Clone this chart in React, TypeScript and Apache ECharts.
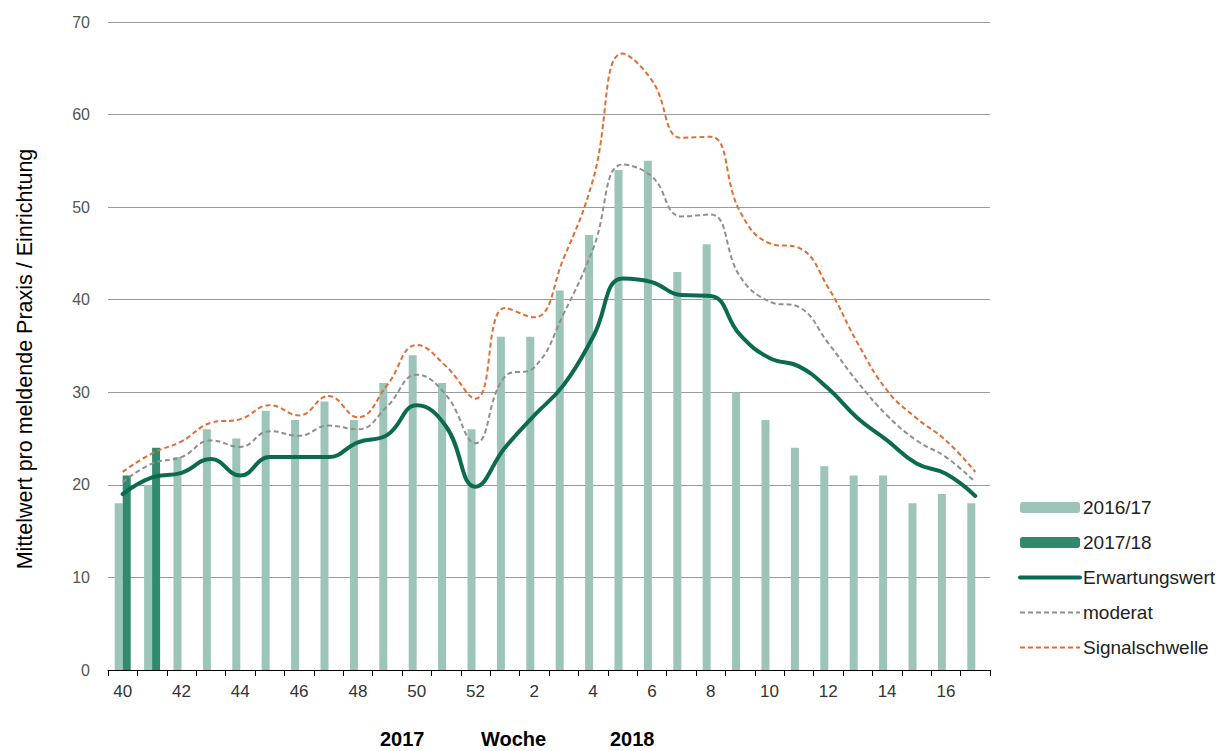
import React, { useEffect, useRef } from "react";
import * as echarts from "echarts";

const weeks = [
  "40", "41", "42", "43", "44", "45", "46", "47", "48", "49", "50", "51", "52",
  "1", "2", "3", "4", "5", "6", "7", "8", "9", "10", "11", "12", "13", "14", "15", "16", "17",
];
const season1617 = [18, 20, 23, 26, 25, 28, 27, 29, 27, 31, 34, 31, 26, 36, 36, 41, 47, 54, 55, 43, 46, 30, 27, 24, 22, 21, 21, 18, 19, 18];
const season1718 = [21, 24];
const erwartung = [19.0, 20.8, 21.3, 22.8, 21.0, 23.0, 23.0, 23.0, 24.6, 25.4, 28.6, 26.3, 19.8, 24.0, 27.5, 30.8, 36.0, 42.3, 41.9, 40.5, 40.4, 36.2, 33.7, 32.8, 30.4, 27.2, 24.8, 22.3, 21.2, 18.8];
const moderat = [20.3, 22.3, 23.0, 24.8, 24.1, 25.8, 25.3, 26.4, 26.0, 28.5, 31.9, 29.7, 24.5, 31.7, 32.7, 38.5, 45.5, 54.6, 53.3, 49.0, 49.2, 42.5, 39.8, 39.2, 35.3, 31.1, 27.5, 24.8, 23.0, 20.3];
const signal = [21.4, 23.4, 24.7, 26.7, 27.1, 28.6, 27.5, 29.6, 27.3, 30.8, 35.1, 32.8, 29.3, 39.1, 38.1, 44.5, 53.0, 66.6, 63.7, 57.5, 57.6, 49.5, 46.1, 45.6, 41.3, 35.3, 30.2, 27.2, 24.8, 21.4];
const yTicks = { min: 0, max: 70, interval: 10 };
const legendNames = ["2016/17", "2017/18", "Erwartungswert", "moderat", "Signalschwelle"];
const yTitle = "Mittelwert pro meldende Praxis / Einrichtung";

export default function App() {
  const ref = useRef<HTMLDivElement>(null);
  useEffect(() => {
    if (!ref.current) return;
    const chart = echarts.init(ref.current, undefined, { renderer: "svg" });
    const font = "Liberation Sans, Arial, sans-serif";
    chart.setOption({
      animation: false,
      textStyle: { fontFamily: font },
      grid: { left: 108, right: 234, top: 22, bottom: 81, containLabel: false },
      legend: {
        orient: "vertical",
        left: 1013,
        top: 493,
        itemWidth: 60,
        itemHeight: 11,
        itemGap: 16,
        textStyle: { fontSize: 19, color: "#222", fontFamily: font, padding: [0, 0, 0, -2] },
        data: legendNames.map((n, i) =>
          i < 2
            ? { name: n }
            : i === 2
            ? { name: n, itemStyle: { opacity: 0 }, lineStyle: { width: 4 } }
            : { name: n, itemStyle: { opacity: 0 } }
        ),
      },
      xAxis: {
        type: "category",
        data: weeks,
        boundaryGap: true,
        axisLine: { lineStyle: { color: "#000", width: 1 } },
        axisTick: { show: true, interval: 0, length: 6, lineStyle: { color: "#000" } },
        axisLabel: { interval: 1, fontSize: 17, color: "#333", margin: 13, fontFamily: font },
      },
      yAxis: {
        type: "value",
        min: yTicks.min,
        max: yTicks.max,
        interval: yTicks.interval,
        axisLine: { show: false },
        axisTick: { show: false },
        axisLabel: { fontSize: 16, color: "#555", margin: 18, fontFamily: font },
        splitLine: { lineStyle: { color: "#9a9a9a", width: 1 } },
      },
      graphic: [
        {
          type: "text",
          x: 25,
          y: 359,
          rotation: Math.PI / 2,
          style: {
            text: yTitle,
            fontSize: 21.5,
            fill: "#000",
            fontFamily: font,
            align: "center",
            verticalAlign: "middle",
          },
        },
        { type: "text", left: 380, top: 729, style: { text: "2017", fontSize: 20, fontWeight: "bold", fill: "#000", fontFamily: font } },
        { type: "text", left: 481, top: 729, style: { text: "Woche", fontSize: 20, fontWeight: "bold", fill: "#000", fontFamily: font } },
        { type: "text", left: 610, top: 729, style: { text: "2018", fontSize: 20, fontWeight: "bold", fill: "#000", fontFamily: font } },
      ],
      series: [
        {
          name: "2016/17",
          type: "bar",
          data: season1617,
          barWidth: 8,
          barGap: "0%",
          itemStyle: { color: "#9cc4b9" },
        },
        {
          name: "2017/18",
          type: "bar",
          data: season1718,
          barWidth: 8,
          barGap: "0%",
          itemStyle: { color: "#2f8a6e" },
        },
        {
          name: "Erwartungswert",
          type: "line",
          data: erwartung,
          smooth: 0.45,
          symbol: "none",
          lineStyle: { color: "#0b6a50", width: 4, cap: "round" },
          itemStyle: { color: "#0b6a50" },
          z: 4,
        },
        {
          name: "moderat",
          type: "line",
          data: moderat,
          smooth: 0.45,
          symbol: "none",
          lineStyle: { color: "#8f8f8f", width: 2, type: [5, 3] },
          itemStyle: { color: "#8f8f8f" },
          z: 3,
        },
        {
          name: "Signalschwelle",
          type: "line",
          data: signal,
          smooth: 0.45,
          symbol: "none",
          lineStyle: { color: "#df6e35", width: 2, type: [5, 3] },
          itemStyle: { color: "#df6e35" },
          z: 3,
        },
      ],
    });
    return () => chart.dispose();
  }, []);
  return (
    <div
      ref={ref}
      style={{ position: "fixed", left: 0, top: 0, width: 1224, height: 751, background: "#fff" }}
    />
  );
}
